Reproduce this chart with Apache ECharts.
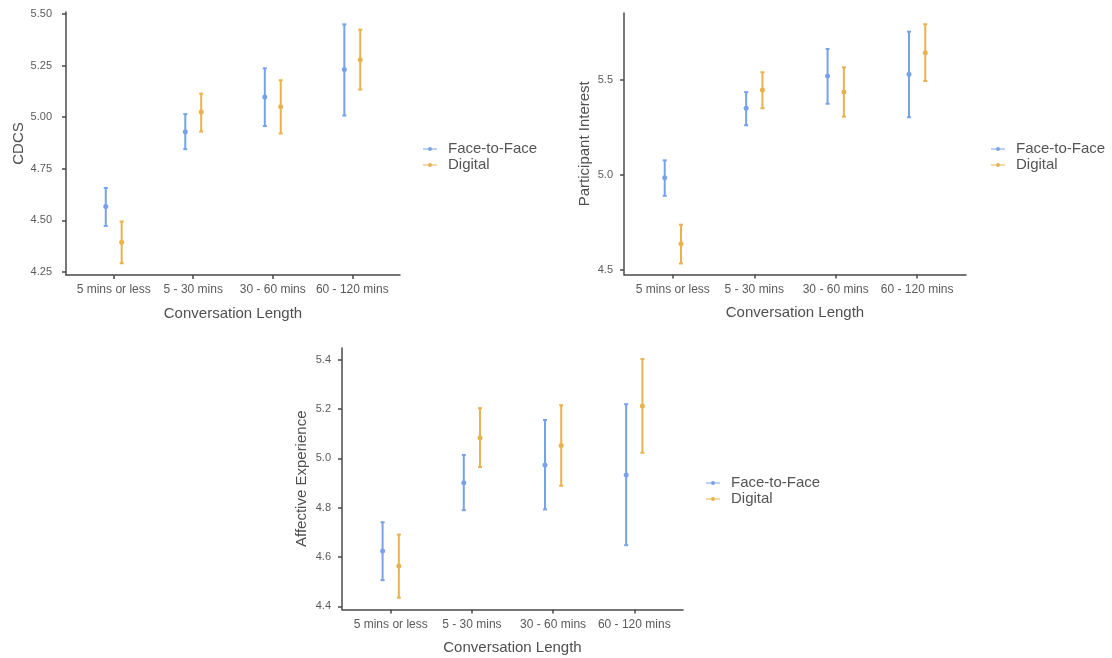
<!DOCTYPE html>
<html>
<head>
<meta charset="utf-8">
<script src="https://cdn.jsdelivr.net/npm/echarts@6/dist/echarts.min.js"></script>
<style>
html,body{margin:0;padding:0;background:#fff;}
#chart{width:1112px;height:658px;}
</style>
</head>
<body>
<div id="chart"></div>
<script>
const categories = ['5 mins or less', '5 - 30 mins', '30 - 60 mins', '60 - 120 mins'];
const groups = ['Face-to-Face', 'Digital'];

// CDCS
const cdcsF2FMean = [4.567, 4.930, 5.098, 5.231];
const cdcsF2FLow  = [4.473, 4.845, 4.957, 5.008];
const cdcsF2FHigh = [4.657, 5.015, 5.237, 5.450];
const cdcsDigMean = [4.394, 5.025, 5.051, 5.279];
const cdcsDigLow  = [4.292, 4.930, 4.921, 5.134];
const cdcsDigHigh = [4.494, 5.114, 5.179, 5.424];
const cdcsTicks = [4.25, 4.50, 4.75, 5.00, 5.25, 5.50];

// Participant Interest
const intF2FMean = [4.985, 5.349, 5.518, 5.527];
const intF2FLow  = [4.890, 5.260, 5.373, 5.302];
const intF2FHigh = [5.076, 5.434, 5.660, 5.751];
const intDigMean = [4.638, 5.445, 5.434, 5.641];
const intDigLow  = [4.535, 5.349, 5.305, 5.492];
const intDigHigh = [4.738, 5.538, 5.564, 5.790];
const intTicks = [4.5, 5.0, 5.5];

// Affective Experience
const affF2FMean = [4.624, 4.901, 4.973, 4.933];
const affF2FLow  = [4.506, 4.790, 4.793, 4.648];
const affF2FHigh = [4.741, 5.014, 5.156, 5.220];
const affDigMean = [4.563, 5.084, 5.052, 5.213];
const affDigLow  = [4.435, 4.965, 4.889, 5.023];
const affDigHigh = [4.691, 5.204, 5.216, 5.403];
const affTicks = [4.4, 4.6, 4.8, 5.0, 5.2, 5.4];

const BLUE = '#78a2e8';
const ORANGE = '#e8b24e';
const AXIS = '#4a4a4a';
const LABEL = '#5a5a5a';
const FONT = 'Liberation Sans, Arial, sans-serif';
const DODGE = 0.1;

const panels = [
  { grid: {left: 66, top: 12, width: 334, height: 263}, ymin: 4.235, ymax: 5.51, ticks: cdcsTicks, dec: 2,
    title: 'CDCS', yGap: 30, yMargin: 14,
    f2f: [cdcsF2FMean, cdcsF2FLow, cdcsF2FHigh], dig: [cdcsDigMean, cdcsDigLow, cdcsDigHigh],
    legend: {left: 418, top: 136} },
  { grid: {left: 624, top: 13, width: 342, height: 261.5}, ymin: 4.477, ymax: 5.849, ticks: intTicks, dec: 1,
    title: 'Participant Interest', yGap: 32, yMargin: 11,
    f2f: [intF2FMean, intF2FLow, intF2FHigh], dig: [intDigMean, intDigLow, intDigHigh],
    legend: {left: 986, top: 136} },
  { grid: {left: 342, top: 348, width: 341, height: 261.5}, ymin: 4.387, ymax: 5.448, ticks: affTicks, dec: 1,
    title: 'Affective Experience', yGap: 33, yMargin: 11,
    f2f: [affF2FMean, affF2FLow, affF2FHigh], dig: [affDigMean, affDigLow, affDigHigh],
    legend: {left: 701, top: 470} }
];

const legendIcon = 'path://M0,4.4 L14,4.4 L14,5.6 L0,5.6 Z M7,3 A2,2 0 1 1 7,7 A2,2 0 1 1 7,3 Z';

function buildData(arrs, offset) {
  const [m, lo, hi] = arrs;
  return m.map((v, i) => [i + offset, v, lo[i], hi[i]]);
}

function renderErr(color) {
  return function (params, api) {
    const x = api.value(0);
    const pm = api.coord([x, api.value(1)]);
    const pl = api.coord([x, api.value(2)]);
    const ph = api.coord([x, api.value(3)]);
    const cap = 2;
    const st = {stroke: color, lineWidth: 2};
    return {
      type: 'group',
      children: [
        {type: 'line', shape: {x1: pl[0], y1: pl[1], x2: ph[0], y2: ph[1]}, style: st},
        {type: 'line', shape: {x1: pl[0]-cap, y1: pl[1], x2: pl[0]+cap, y2: pl[1]}, style: st},
        {type: 'line', shape: {x1: ph[0]-cap, y1: ph[1], x2: ph[0]+cap, y2: ph[1]}, style: st},
        {type: 'circle', shape: {cx: pm[0], cy: pm[1], r: 2.5}, style: {fill: color}}
      ]
    };
  };
}

const option = {
  animation: false,
  backgroundColor: '#fff',
  textStyle: {fontFamily: FONT},
  grid: [], xAxis: [], yAxis: [], series: [], legend: []
};

panels.forEach((p, k) => {
  option.grid.push(Object.assign({containLabel: false}, p.grid));
  option.xAxis.push({
    type: 'value', gridIndex: k, min: -0.6, max: 3.6,
    splitLine: {show: false},
    axisLine: {show: true, onZero: false, lineStyle: {color: AXIS, width: 1.5}},
    axisTick: {show: true, customValues: [0, 1, 2, 3], length: 4, lineStyle: {color: AXIS, width: 1.5}},
    axisLabel: {customValues: [0, 1, 2, 3], formatter: v => categories[Math.round(v)] || '',
      color: LABEL, fontSize: 12, margin: 9, fontFamily: FONT},
    name: 'Conversation Length', nameLocation: 'middle', nameGap: 31,
    nameTextStyle: {color: '#505050', fontSize: 15, fontFamily: FONT}
  });
  option.yAxis.push({
    type: 'value', gridIndex: k, min: p.ymin, max: p.ymax,
    splitLine: {show: false},
    axisLine: {show: true, onZero: false, lineStyle: {color: AXIS, width: 1.5}},
    axisTick: {show: true, customValues: p.ticks, length: 4, lineStyle: {color: AXIS, width: 1.5}},
    axisLabel: {customValues: p.ticks, formatter: v => v.toFixed(p.dec),
      color: LABEL, fontSize: 11, margin: p.yMargin, fontFamily: FONT},
    name: p.title, nameLocation: 'middle', nameGap: p.yGap, nameRotate: 90,
    nameTextStyle: {color: '#505050', fontSize: 15, fontFamily: FONT}
  });
  option.series.push({
    type: 'custom', name: groups[0], xAxisIndex: k, yAxisIndex: k,
    itemStyle: {color: BLUE}, renderItem: renderErr(BLUE),
    encode: {x: 0, y: [1, 2, 3]},
    data: buildData(p.f2f, -DODGE)
  });
  option.series.push({
    type: 'custom', name: groups[1], xAxisIndex: k, yAxisIndex: k,
    itemStyle: {color: ORANGE}, renderItem: renderErr(ORANGE),
    encode: {x: 0, y: [1, 2, 3]},
    data: buildData(p.dig, DODGE)
  });
  option.legend.push({
    left: p.legend.left, top: p.legend.top, orient: 'vertical',
    itemWidth: 14, itemHeight: 10, itemGap: 0,
    selectedMode: false,
    data: groups.map(g => ({name: g, icon: legendIcon})),
    textStyle: {color: '#555', fontSize: 15, lineHeight: 16, fontFamily: FONT, padding: [0, 0, 0, 6]}
  });
});

const chart = echarts.init(document.getElementById('chart'), null, {renderer: 'canvas'});
chart.setOption(option);
</script>
</body>
</html>
